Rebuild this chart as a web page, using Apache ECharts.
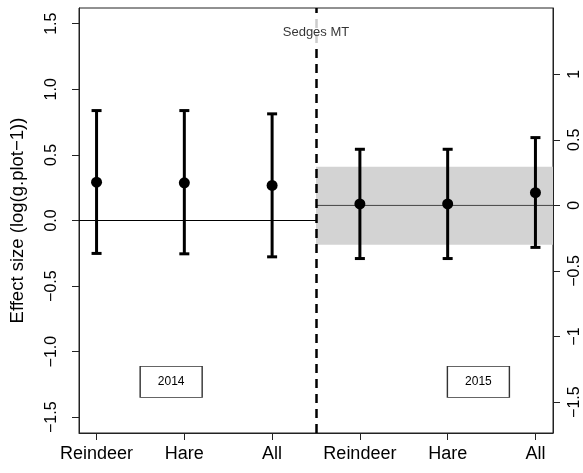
<!DOCTYPE html>
<html>
<head>
<meta charset="utf-8">
<script src="https://cdn.jsdelivr.net/npm/echarts@6/dist/echarts.min.js"></script>
<style>html,body{margin:0;padding:0;background:#fff}#c{width:583px;height:473px}</style>
</head>
<body>
<div id="c"></div>
<script>
const categories = ["Reindeer", "Hare", "All", "Reindeer", "Hare", "All"];
const xPositions = [1, 2, 3, 4, 5, 6];
const xLimits = [0.8, 6.2];
const divider = 3.5;
const est2014 = [0.292, 0.287, 0.267];
const low2014 = [-0.251, -0.254, -0.277];
const high2014 = [0.838, 0.838, 0.813];
const est2015 = [0.011, 0.011, 0.097];
const low2015 = [-0.405, -0.405, -0.320];
const high2015 = [0.428, 0.428, 0.517];
const band2015 = [-0.299, 0.294];
const leftLimits = [-1.62, 1.62];
const rightLimits = [-1.735, 1.505];
const leftTicks = [-1.5, -1, -0.5, 0, 0.5, 1, 1.5];
const leftTickLabels = ["−1.5", "−1.0", "−0.5", "0.0", "0.5", "1.0", "1.5"];
const rightTicks = [-1.5, -1, -0.5, 0, 0.5, 1];
const rightTickLabels = ["−1.5", "−1", "−0.5", "0", "0.5", "1"];
const years = ["2014", "2015"];
const yearBoxX = [1.85, 5.35];
const yearBoxY = -1.23;
const dividerLabel = "Sedges MT";
const dividerLabelY = 1.437;
const yTitle = "Effect size (log(g.plot−1))";

const FONT = "'Liberation Sans', Arial, Helvetica, sans-serif";
const chart = echarts.init(document.getElementById('c'));

function errData(xs, lo, hi) { return xs.map((x, i) => [x, lo[i], hi[i]]); }
function ptData(xs, est) { return xs.map((x, i) => [x, est[i]]); }
function errRender(params, api) {
  const x = api.value(0), lo = api.value(1), hi = api.value(2);
  const a = api.coord([x, lo]), b = api.coord([x, hi]);
  const cap = 5;
  const st = { stroke: '#000', lineWidth: 3 };
  return { type: 'group', children: [
    { type: 'line', shape: { x1: a[0], y1: a[1], x2: b[0], y2: b[1] }, style: st },
    { type: 'line', shape: { x1: a[0] - cap, y1: a[1], x2: a[0] + cap, y2: a[1] }, style: st },
    { type: 'line', shape: { x1: b[0] - cap, y1: b[1], x2: b[0] + cap, y2: b[1] }, style: st }
  ]};
}

const x2014 = xPositions.slice(0, 3), x2015 = xPositions.slice(3);

chart.setOption({
  animation: false,
  grid: { left: 78, right: 30, top: 8, bottom: 40, show: true, borderColor: '#222', borderWidth: 1, backgroundColor: 'transparent' },
  xAxis: {
    type: 'value', min: xLimits[0], max: xLimits[1],
    axisLine: { show: true, onZero: false, lineStyle: { color: '#222', width: 1 } },
    axisTick: { show: true, length: 7, customValues: xPositions, lineStyle: { color: '#222' } },
    axisLabel: { customValues: xPositions, margin: 12, color: '#000', fontSize: 18, fontFamily: FONT,
      formatter: v => categories[Math.round(v) - 1] },
    splitLine: { show: false }
  },
  yAxis: [{
    type: 'value', min: leftLimits[0], max: leftLimits[1], position: 'left',
    axisLine: { show: true, onZero: false, lineStyle: { color: '#222', width: 1 } },
    axisTick: { show: true, length: 7, customValues: leftTicks, lineStyle: { color: '#222' } },
    axisLabel: { customValues: leftTicks, rotate: 90, margin: 19, color: '#000', fontSize: 16, fontFamily: FONT,
      formatter: v => leftTickLabels[leftTicks.findIndex(t => Math.abs(t - v) < 1e-6)] },
    splitLine: { show: false },
    name: yTitle, nameLocation: 'middle', nameGap: 52, nameRotate: 90,
    nameTextStyle: { fontSize: 18.5, fontFamily: FONT, color: '#000' }
  }, {
    type: 'value', min: rightLimits[0], max: rightLimits[1], position: 'right',
    axisLine: { show: true, onZero: false, lineStyle: { color: '#222', width: 1 } },
    axisTick: { show: true, length: 7, customValues: rightTicks, lineStyle: { color: '#222' } },
    axisLabel: { customValues: rightTicks, rotate: 90, margin: 14, color: '#000', fontSize: 16, fontFamily: FONT,
      formatter: v => rightTickLabels[rightTicks.findIndex(t => Math.abs(t - v) < 1e-6)] },
    splitLine: { show: false }
  }],
  series: [
    { // 2015 band + zero line (right axis)
      type: 'line', yAxisIndex: 1, symbol: 'none', z: 2,
      data: [[divider, 0], [xLimits[1], 0]],
      lineStyle: { color: '#444', width: 1 },
      markArea: { silent: true, itemStyle: { color: '#d3d3d3' },
        data: [[{ xAxis: divider, yAxis: band2015[0] }, { xAxis: xLimits[1], yAxis: band2015[1] }]] }
    },
    { // 2014 zero line
      type: 'line', yAxisIndex: 0, symbol: 'none', z: 2,
      data: [[xLimits[0], 0], [divider, 0]],
      lineStyle: { color: '#000', width: 1 }
    },
    { // divider
      type: 'line', yAxisIndex: 0, symbol: 'none', z: 3, data: [],
      markLine: { silent: true, symbol: 'none', label: { show: false },
        lineStyle: { color: '#000', width: 2.5, type: [9, 6] },
        data: [{ xAxis: divider }] }
    },
    { type: 'custom', yAxisIndex: 0, z: 4, renderItem: errRender, data: errData(x2014, low2014, high2014) },
    { type: 'custom', yAxisIndex: 1, z: 4, renderItem: errRender, data: errData(x2015, low2015, high2015) },
    { type: 'scatter', yAxisIndex: 0, z: 5, symbol: 'circle', symbolSize: 11, itemStyle: { color: '#000', opacity: 1 }, data: ptData(x2014, est2014) },
    { type: 'scatter', yAxisIndex: 1, z: 5, symbol: 'circle', symbolSize: 11, itemStyle: { color: '#000', opacity: 1 }, data: ptData(x2015, est2015) },
    { // divider label
      type: 'scatter', yAxisIndex: 0, z: 6, symbolSize: 0, data: [[divider, dividerLabelY]],
      label: { show: true, position: 'inside', formatter: dividerLabel, fontSize: 13, fontFamily: FONT, color: '#000',
        backgroundColor: '#fff', padding: [5, 4, 14, 4] }
    },
    { // year boxes
      type: 'scatter', yAxisIndex: 0, z: 6, symbol: 'rect', symbolSize: [62, 31],
      itemStyle: { color: '#fff', borderColor: '#333', borderWidth: 1, opacity: 1 },
      data: yearBoxX.map(x => [x, yearBoxY]),
      label: { show: true, position: 'inside', fontSize: 12, fontFamily: FONT, color: '#000',
        formatter: p => years[p.dataIndex] }
    }
  ]
});
</script>
</body>
</html>
